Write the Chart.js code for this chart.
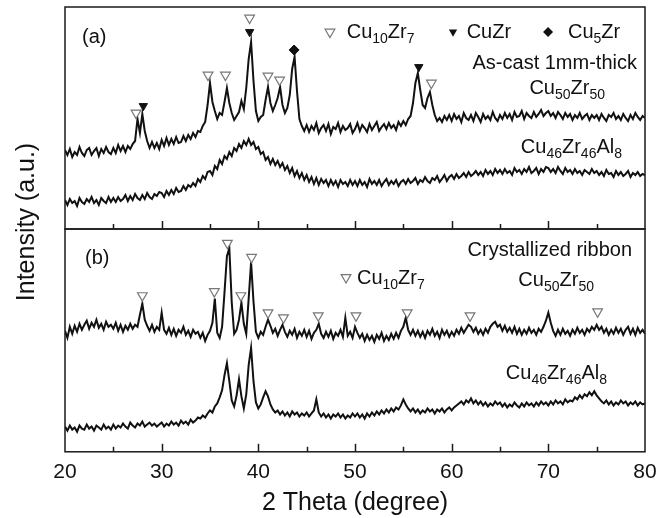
<!DOCTYPE html>
<html>
<head>
<meta charset="utf-8">
<script src="https://cdn.jsdelivr.net/npm/chart.js@4.4.1/dist/chart.umd.min.js"></script>
<style>
  body { margin: 0; background: #fff; }
  #wrap { position: relative; width: 669px; height: 518px; }
  canvas { position: absolute; left: 0; top: 0; }
</style>
</head>
<body>
<div id="wrap">
  <canvas id="panelA" width="669" height="518"></canvas>
  <canvas id="panelB" width="669" height="518"></canvas>
</div>
<script>
// 2 theta scan points (degree)
const twoTheta = [
  20,20.25,20.5,20.75,21,21.25,21.5,21.75,22,22.25,22.5,22.75,23,23.25,23.5,23.75,24,24.25,24.5,24.75,
  25,25.25,25.5,25.75,26,26.25,26.5,26.75,27,27.25,27.5,27.75,28,28.25,28.5,28.75,29,29.25,29.5,29.75,
  30,30.25,30.5,30.75,31,31.25,31.5,31.75,32,32.25,32.5,32.75,33,33.25,33.5,33.75,34,34.25,34.5,34.75,
  35,35.25,35.5,35.75,36,36.25,36.5,36.75,37,37.25,37.5,37.75,38,38.25,38.5,38.75,39,39.25,39.5,39.75,
  40,40.25,40.5,40.75,41,41.25,41.5,41.75,42,42.25,42.5,42.75,43,43.25,43.5,43.75,44,44.25,44.5,44.75,
  45,45.25,45.5,45.75,46,46.25,46.5,46.75,47,47.25,47.5,47.75,48,48.25,48.5,48.75,49,49.25,49.5,49.75,
  50,50.25,50.5,50.75,51,51.25,51.5,51.75,52,52.25,52.5,52.75,53,53.25,53.5,53.75,54,54.25,54.5,54.75,
  55,55.25,55.5,55.75,56,56.25,56.5,56.75,57,57.25,57.5,57.75,58,58.25,58.5,58.75,59,59.25,59.5,59.75,
  60,60.25,60.5,60.75,61,61.25,61.5,61.75,62,62.25,62.5,62.75,63,63.25,63.5,63.75,64,64.25,64.5,64.75,
  65,65.25,65.5,65.75,66,66.25,66.5,66.75,67,67.25,67.5,67.75,68,68.25,68.5,68.75,69,69.25,69.5,69.75,
  70,70.25,70.5,70.75,71,71.25,71.5,71.75,72,72.25,72.5,72.75,73,73.25,73.5,73.75,74,74.25,74.5,74.75,
  75,75.25,75.5,75.75,76,76.25,76.5,76.75,77,77.25,77.5,77.75,78,78.25,78.5,78.75,79,79.25,79.5,79.75,
  80
];

// (a) as-cast 1mm-thick, intensity (a.u.)
const asCastCu50Zr50 = [
  79,74,80,72,77,74,82,76,73,79,81,74,78,81,73,80,76,82,77,75,
  81,76,84,78,83,77,83,80,85,88,110,96,115,98,88,81,87,81,86,80,
  89,83,91,84,90,85,92,86,87,93,88,94,90,96,92,98,97,103,107,124,
  146,127,118,110,116,114,127,141,126,116,109,113,117,128,120,141,170,187,148,118,
  108,112,114,129,142,126,118,124,131,142,124,116,121,134,160,172,138,110,103,98,
  104,97,103,99,106,96,101,104,98,105,95,102,100,106,97,103,99,101,105,96,
  100,106,98,104,101,97,105,99,103,107,98,102,105,100,106,101,104,99,107,103,
  108,104,110,113,126,146,156,139,124,121,131,137,124,114,108,111,107,113,109,114,
  108,115,110,113,107,116,111,109,114,108,116,112,107,115,110,113,109,117,111,108,
  114,110,116,111,115,109,117,112,113,118,110,116,113,111,117,112,115,119,113,116,
  118,113,116,111,117,114,110,116,112,115,109,114,111,116,110,113,115,109,114,111,
  114,109,115,111,108,114,112,116,110,113,109,115,111,108,114,110,116,112,109,113,
  111
];
const asCastCu46Zr46Al8 = [
  29,24,30,26,28,23,31,27,25,30,27,32,26,29,24,31,28,26,32,27,
  31,27,32,28,30,34,28,33,29,35,31,29,34,30,36,32,30,35,33,37,
  36,32,38,34,39,35,41,37,38,43,39,44,42,46,43,50,47,53,50,57,
  58,54,63,60,69,65,73,70,77,73,81,78,85,81,88,84,90,84,87,80,
  82,75,77,69,72,65,70,64,68,62,66,59,63,56,61,53,58,51,56,49,
  54,47,52,45,51,44,50,46,49,43,49,44,48,42,49,45,47,43,49,44,
  48,43,49,44,47,42,50,45,48,44,49,43,47,50,44,48,45,49,43,47,
  49,45,50,46,48,51,45,49,47,52,48,46,51,49,53,47,50,54,48,52,
  54,50,55,51,53,56,52,57,53,55,58,54,57,53,59,55,58,54,60,56,
  59,55,60,56,58,54,61,57,59,55,60,57,62,56,58,61,55,60,57,62,
  61,57,60,56,62,58,55,61,57,59,55,60,56,58,54,59,57,55,60,56,
  58,54,57,53,59,55,56,52,58,54,57,53,55,58,52,56,54,57,53,55,
  54
];

// (b) crystallized ribbon, intensity (a.u.)
const ribbonCu50Zr50 = [
  120,113,124,117,125,119,127,121,126,130,122,128,124,131,123,127,121,129,124,126,
  122,128,120,126,119,125,121,127,122,126,124,136,147,131,125,120,126,119,124,121,
  138,121,117,123,116,122,115,121,118,124,116,120,114,121,117,119,113,118,110,116,
  120,128,152,118,113,124,158,194,202,148,117,121,131,148,127,117,152,188,149,119,
  113,119,116,124,131,125,118,122,115,121,126,119,114,120,116,122,113,119,115,121,
  114,120,112,118,121,127,117,113,119,114,120,112,118,115,121,114,133,115,119,113,
  124,118,113,117,110,116,111,115,109,116,112,118,110,115,111,117,112,118,113,120,
  124,133,121,116,121,115,120,114,119,113,120,116,122,115,119,113,121,116,120,114,
  119,115,121,117,123,118,122,126,124,119,123,117,121,116,122,118,124,127,129,124,
  126,120,125,119,123,118,124,117,122,116,121,117,123,118,121,116,122,119,124,130,
  138,128,120,115,121,116,122,117,120,115,121,117,123,118,121,116,122,119,124,121,
  126,121,124,118,122,116,121,117,123,118,122,116,121,124,117,122,116,123,118,121,
  117
];
const ribbonCu46Zr46Al8 = [
  25,21,26,22,24,20,26,23,22,27,23,25,21,26,24,22,27,23,25,22,
  27,23,26,24,28,25,23,29,26,24,28,26,30,25,27,29,26,28,25,27,
  29,25,28,26,30,27,29,26,31,28,30,27,32,29,31,34,33,36,34,38,
  41,39,45,48,54,61,76,88,70,51,45,56,72,55,43,57,86,103,70,49,
  43,47,54,60,55,47,42,39,41,37,40,36,39,35,40,37,39,35,38,36,
  39,35,38,41,52,39,35,38,34,37,33,37,35,38,34,37,33,36,34,38,
  35,38,34,37,33,38,35,39,36,40,37,41,38,42,39,43,40,44,42,46,
  52,47,43,40,43,39,42,38,41,39,43,40,42,38,42,40,43,39,42,44,
  41,44,46,48,50,47,51,49,53,48,51,47,50,46,49,45,48,46,50,47,
  49,45,48,44,47,45,49,46,44,48,45,49,46,48,45,49,46,50,47,49,
  46,50,47,51,48,50,47,52,49,51,50,54,52,56,53,57,55,59,56,60,
  56,53,50,48,51,47,50,46,49,47,51,48,50,46,49,47,50,46,49,47,
  48
];

// phase markers [2theta, height]
const asCastCu10Zr7Peaks = [[27.35,116],[34.8,154],[36.6,154],[39.1,211],[41.0,153],[42.2,149],[57.9,146]];
const asCastCuZrPeaks = [[28.1,123],[39.1,197],[56.6,162]];
const asCastCu5ZrPeaks = [[43.7,179]];
const ribbonCu10Zr7Peaks = [[28.0,155],[35.45,159],[36.8,207],[38.2,155],[39.3,193],[41.0,138],[42.6,133],[46.2,135],[50.1,135],[55.4,138],[61.9,135],[75.1,139]];

const xTicks = [20, 30, 40, 50, 60, 70, 80];
const xMinorTicks = [25, 30, 35, 40, 45, 50, 55, 60, 65, 70, 75];

const FONT = "'Liberation Sans', Arial, sans-serif";
const INK = "#111";

function toPoints(ys) {
  return twoTheta.map((x, i) => ({ x: x, y: ys[i] }));
}
function toMarks(pairs) {
  return pairs.map(p => ({ x: p[0], y: p[1] }));
}

function curve(ys) {
  return {
    data: toPoints(ys), showLine: true, pointRadius: 0,
    borderColor: INK, borderWidth: 2, tension: 0
  };
}
function openTri(pairs) {
  return {
    data: toMarks(pairs), pointStyle: "triangle", rotation: 180, pointRadius: 5.6,
    pointBackgroundColor: "#fff", pointBorderColor: "#777", pointBorderWidth: 1.2
  };
}
function filledTri(pairs) {
  return {
    data: toMarks(pairs), pointStyle: "triangle", rotation: 180, pointRadius: 4.8,
    pointBackgroundColor: INK, pointBorderColor: INK, pointBorderWidth: 1
  };
}
function diamond(pairs) {
  return {
    data: toMarks(pairs), pointStyle: "rectRot", pointRadius: 5,
    pointBackgroundColor: INK, pointBorderColor: INK, pointBorderWidth: 1
  };
}

// text with subscripts: parts like ["Cu","_50","Zr","_50"]
function chem(ctx, x, y, parts, align) {
  const main = "20px " + FONT, sub = "14px " + FONT;
  let w = 0;
  parts.forEach(p => {
    ctx.font = p[0] === "_" ? sub : main;
    w += ctx.measureText(p[0] === "_" ? p.slice(1) : p).width;
  });
  let cx = align === "right" ? x - w : x;
  ctx.textAlign = "left";
  ctx.textBaseline = "middle";
  ctx.fillStyle = INK;
  parts.forEach(p => {
    const isSub = p[0] === "_";
    const t = isSub ? p.slice(1) : p;
    ctx.font = isSub ? sub : main;
    ctx.fillText(t, cx, isSub ? y + 7 : y);
    cx += ctx.measureText(t).width;
  });
}

function symbol(ctx, kind, x, y) {
  ctx.save();
  ctx.beginPath();
  if (kind === "diamond") {
    ctx.moveTo(x, y - 5); ctx.lineTo(x + 5, y); ctx.lineTo(x, y + 5); ctx.lineTo(x - 5, y);
  } else {
    const r = kind === "open" ? 5.6 : 4.8;
    ctx.moveTo(x, y + r);
    ctx.lineTo(x - r * 0.866, y - r / 2);
    ctx.lineTo(x + r * 0.866, y - r / 2);
  }
  ctx.closePath();
  if (kind === "open") {
    ctx.fillStyle = "#fff"; ctx.fill();
    ctx.strokeStyle = "#777"; ctx.lineWidth = 1.2; ctx.stroke();
  } else {
    ctx.fillStyle = INK; ctx.fill();
  }
  ctx.restore();
}

// frame and inward ticks on the bottom edge of each panel
const framePlugin = {
  id: "panelFrame",
  afterDraw(chart) {
    const ctx = chart.ctx;
    const a = chart.chartArea;
    const xs = chart.scales.x;
    ctx.save();
    ctx.strokeStyle = "#1a1a1a";
    ctx.lineWidth = 1.5;
    ctx.strokeRect(a.left, a.top, a.right - a.left, a.bottom - a.top);
    xMinorTicks.forEach(t => {
      const px = Math.round(xs.getPixelForValue(t)) + 0.5;
      const len = t % 10 === 0 ? 8 : 5;
      ctx.beginPath();
      ctx.moveTo(px, a.bottom);
      ctx.lineTo(px, a.bottom - len);
      ctx.lineWidth = 1.5;
      ctx.stroke();
    });
    ctx.restore();
  }
};

const notesA = {
  id: "notesA",
  afterDraw(chart) {
    const { ctx, scales } = chart;
    const X = v => scales.x.getPixelForValue(v), Y = v => scales.y.getPixelForValue(v);
    ctx.save();
    chem(ctx, X(21.76), Y(192), ["(a)"], "left");
    symbol(ctx, "open", X(47.41), Y(197));
    chem(ctx, X(49.14), Y(197), ["Cu", "_10", "Zr", "_7"], "left");
    symbol(ctx, "filled", X(60.14), Y(197));
    chem(ctx, X(61.55), Y(197), ["CuZr"], "left");
    symbol(ctx, "diamond", X(69.97), Y(197));
    chem(ctx, X(72.03), Y(197), ["Cu", "_5", "Zr"], "left");
    chem(ctx, X(79.17), Y(166), ["As-cast 1mm-thick"], "right");
    chem(ctx, X(75.86), Y(141), ["Cu", "_50", "Zr", "_50"], "right");
    chem(ctx, X(77.62), Y(82), ["Cu", "_46", "Zr", "_46", "Al", "_8"], "right");
    // shared y title
    ctx.translate(27, 222);
    ctx.rotate(-Math.PI / 2);
    ctx.font = "25px " + FONT;
    ctx.textAlign = "center";
    ctx.textBaseline = "middle";
    ctx.fillStyle = INK;
    ctx.fillText("Intensity (a.u.)", 0, 0);
    ctx.restore();
  }
};

const notesB = {
  id: "notesB",
  afterDraw(chart) {
    const { ctx, scales } = chart;
    const X = v => scales.x.getPixelForValue(v), Y = v => scales.y.getPixelForValue(v);
    ctx.save();
    chem(ctx, X(22.07), Y(192), ["(b)"], "left");
    chem(ctx, X(78.66), Y(200), ["Crystallized ribbon"], "right");
    symbol(ctx, "open", X(49.07), Y(173));
    chem(ctx, X(50.2), Y(172), ["Cu", "_10", "Zr", "_7"], "left");
    chem(ctx, X(74.72), Y(170), ["Cu", "_50", "Zr", "_50"], "right");
    chem(ctx, X(76.07), Y(78), ["Cu", "_46", "Zr", "_46", "Al", "_8"], "right");
    ctx.restore();
  }
};

function baseOptions(yMax, padding, showX) {
  return {
    responsive: false,
    animation: false,
    layout: { padding: padding },
    plugins: { legend: { display: false }, tooltip: { enabled: false } },
    scales: {
      x: {
        type: "linear", min: 20, max: 80,
        display: showX,
        grid: { display: false },
        border: { display: false },
        afterBuildTicks: axis => { axis.ticks = xTicks.map(v => ({ value: v })); },
        ticks: { color: INK, font: { family: FONT, size: 21 }, padding: 0 },
        title: {
          display: true, text: "2 Theta (degree)", color: INK,
          font: { family: FONT, size: 25 }, padding: { top: 3, bottom: 0 }
        }
      },
      y: { type: "linear", min: 0, max: yMax, display: false }
    }
  };
}

new Chart(document.getElementById("panelA"), {
  type: "scatter",
  data: {
    datasets: [
      openTri(asCastCu10Zr7Peaks),
      filledTri(asCastCuZrPeaks),
      diamond(asCastCu5ZrPeaks),
      curve(asCastCu50Zr50),
      curve(asCastCu46Zr46Al8)
    ]
  },
  options: baseOptions(222, { left: 65, right: 24, top: 7, bottom: 289 }, false),
  plugins: [framePlugin, notesA]
});

new Chart(document.getElementById("panelB"), {
  type: "scatter",
  data: {
    datasets: [
      openTri(ribbonCu10Zr7Peaks),
      curve(ribbonCu50Zr50),
      curve(ribbonCu46Zr46Al8)
    ]
  },
  options: baseOptions(221, { left: 65, right: 24, top: 229, bottom: 0 }, true),
  plugins: [framePlugin, notesB]
});
</script>
</body>
</html>
